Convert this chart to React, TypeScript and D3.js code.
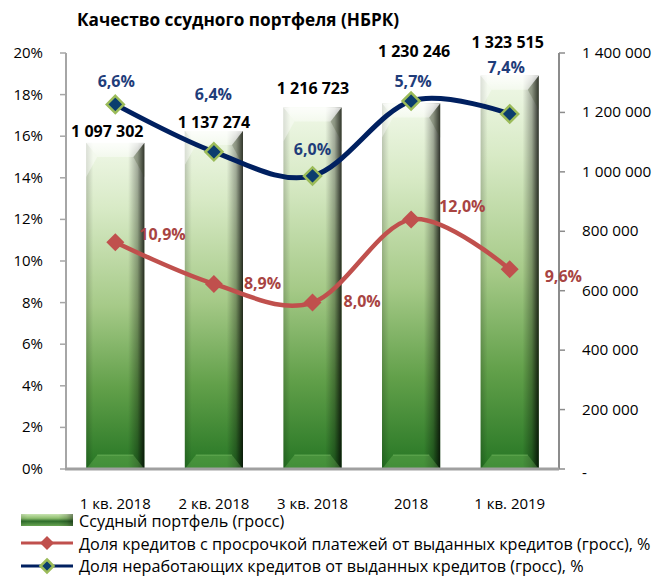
import React from 'react';
import * as d3 from 'd3';

// ---- data ----
const categories = ['1 кв. 2018', '2 кв. 2018', '3 кв. 2018', '2018', '1 кв. 2019'];
const portfolio = [1097302, 1137274, 1216723, 1230246, 1323515];
const overdueShare = [10.9, 8.9, 8.0, 12.0, 9.6];
// NPL line as drawn against the left axis (its labels differ from the drawn heights)
const nplPlotted = [17.53, 15.25, 14.09, 17.69, 17.07];
const nplLabels = ['6,6%', '6,4%', '6,0%', '5,7%', '7,4%'];
const leftTicks = [0, 2, 4, 6, 8, 10, 12, 14, 16, 18, 20];
const rightTicks = [0, 200000, 400000, 600000, 800000, 1000000, 1200000, 1400000];
const title = 'Качество ссудного портфеля (НБРК)';
const legendNames = [
  'Ссудный портфель (гросс)',
  'Доля кредитов с просрочкой платежей от выданных кредитов (гросс), %',
  'Доля неработающих кредитов от выданных кредитов (гросс), %',
];

// ---- layout (label offsets) ----
const barLabelOffset: [number, number][] = [[-8, -6], [0, -3], [0.5, -13.5], [3, -46], [-2, -28]];
const redLabelOffset: [number, number][] = [[24, -2], [30, 5], [31, 4], [28, -7], [35, 13]];
const navyLabelOffset: [number, number][] = [[1, -17], [-0.5, -52], [0, -21], [2, -14], [-3.5, -41]];

const FONT = "'Open Sans', 'Noto Sans', sans-serif";
const W = 658, H = 576;
const L = 66, R = 559, T = 53, B = 469;

const fmtSpace = (v: number) => d3.format(',')(v).replace(/,/g, '\u00a0');
const fmtPct = (v: number) => d3.format('.1f')(v).replace('.', ',') + '%';

function Bar({ x, y, w, h }: { x: number; y: number; w: number; h: number }) {
  const b = 11, bt = 14;
  return (
    <g>
      <rect x={x} y={y} width={w} height={h} fill="url(#barV)" />
      <rect x={x} y={y} width={w} height={h} fill="url(#barH)" />
      <polygon points={`${x},${y} ${x + w},${y} ${x + w - b},${y + bt} ${x + b},${y + bt}`} fill="url(#bevelTop)" />
      <polygon points={`${x},${y} ${x + b},${y + bt} ${x},${y + bt + 20}`} fill="rgba(255,255,255,0.4)" />
      <polygon points={`${x + w},${y} ${x + w - b},${y + bt} ${x + w},${y + bt + 20}`} fill="rgba(60,70,40,0.25)" />
      <polygon points={`${x + b},${y + h - bt} ${x + w - b},${y + h - bt} ${x + w},${y + h} ${x},${y + h}`} fill="rgba(140,210,110,0.28)" />
      <line x1={x + b} x2={x + w - b} y1={y + h - bt} y2={y + h - bt} stroke="rgba(170,230,140,0.35)" strokeWidth={1} />
    </g>
  );
}

export default function App() {
  const x = d3.scaleBand<string>().domain(categories).range([L, R]).paddingInner(0.41).paddingOuter(0.205);
  const yL = d3.scaleLinear().domain([0, 20]).range([B, T]);
  const yR = d3.scaleLinear().domain([0, 1400000]).range([B, T]);
  const cx = (i: number) => (x(categories[i]) as number) + x.bandwidth() / 2;

  const line = d3.line<number>().x((_, i) => cx(i)).y((v) => yL(v)).curve(d3.curveCardinal.tension(0));

  const diamond = (px: number, py: number, r: number) =>
    `M${px},${py - r}L${px + r},${py}L${px},${py + r}L${px - r},${py}Z`;

  return (
    <div style={{ position: 'absolute', left: 0, top: 0 }}>
      <svg width={W} height={H} style={{ display: 'block', background: '#fff' }} fontFamily={FONT}>
        <defs>
          <linearGradient id="barV" x1="0" y1="0" x2="0" y2="1">
            <stop offset="0" stopColor="#f0f8e8" />
            <stop offset="0.2" stopColor="#d8eac6" />
            <stop offset="0.5" stopColor="#a6ca88" />
            <stop offset="0.75" stopColor="#62a04a" />
            <stop offset="1" stopColor="#267624" />
          </linearGradient>
          <linearGradient id="barH" x1="0" y1="0" x2="1" y2="0">
            <stop offset="0" stopColor="#000" stopOpacity="0.18" />
            <stop offset="0.12" stopColor="#000" stopOpacity="0" />
            <stop offset="0.72" stopColor="#000" stopOpacity="0" />
            <stop offset="0.88" stopColor="#000" stopOpacity="0.3" />
            <stop offset="1" stopColor="#000" stopOpacity="0.8" />
          </linearGradient>
          <linearGradient id="bevelTop" x1="0" y1="0" x2="0" y2="1">
            <stop offset="0" stopColor="#ffffff" stopOpacity="0.8" />
            <stop offset="1" stopColor="#ffffff" stopOpacity="0.4" />
          </linearGradient>
          <linearGradient id="legSw" x1="0" y1="0" x2="0" y2="1">
            <stop offset="0" stopColor="#c9e4b2" />
            <stop offset="0.35" stopColor="#8fbf70" />
            <stop offset="0.6" stopColor="#2f6e2c" />
            <stop offset="1" stopColor="#6aa653" />
          </linearGradient>
        </defs>

        {/* title */}
        <text x={77} y={26} fontSize={17.2} fontWeight="bold" fill="#000">{title}</text>

        {/* bars */}
        {portfolio.map((v, i) => (
          <Bar key={i} x={x(categories[i]) as number} y={yR(v)} w={x.bandwidth()} h={B - yR(v)} />
        ))}

        {/* axes */}
        <line x1={L} x2={L} y1={T} y2={B} stroke="#a6a6a6" strokeWidth={2} />
        {leftTicks.map((t) => (
          <g key={t}>
            <line x1={L - 6} x2={L} y1={yL(t)} y2={yL(t)} stroke="#a6a6a6" strokeWidth={1.5} />
            <text x={43} y={yL(t) + 5} textAnchor="end" fontSize={15} fill="#000">{t}%</text>
          </g>
        ))}
        <line x1={R} x2={R} y1={T} y2={B} stroke="#8c8c8c" strokeWidth={2} />
        {rightTicks.map((t) => (
          <g key={t}>
            <line x1={R} x2={R + 6} y1={yR(t)} y2={yR(t)} stroke="#8c8c8c" strokeWidth={1.5} />
            <text x={582} y={yR(t) + 5 + (t === 0 ? 4 : 0)} textAnchor="start" fontSize={15.3} fill="#000">
              {t === 0 ? '-' : fmtSpace(t)}
            </text>
          </g>
        ))}
        <line x1={L - 1} x2={R} y1={B} y2={B} stroke="#a0a0a0" strokeWidth={3} />
        {categories.map((c, i) => (
          <text key={c} x={cx(i)} y={509} textAnchor="middle" fontSize={15} fill="#000">{c}</text>
        ))}

        {/* overdue line */}
        <path d={line(overdueShare) || ''} fill="none" stroke="#c0504d" strokeWidth={4.5} />
        {overdueShare.map((v, i) => (
          <path key={i} d={diamond(cx(i), yL(v), 9)} fill="#c0504d" />
        ))}

        {/* NPL line */}
        <path d={line(nplPlotted) || ''} fill="none" stroke="#002060" strokeWidth={5} />
        {nplPlotted.map((v, i) => (
          <path key={i} d={diamond(cx(i), yL(v), 8.5)} fill="#0b3d6e" stroke="#9bbb59" strokeWidth={2.5} />
        ))}

        {/* labels */}
        {portfolio.map((v, i) => (
          <text key={i} x={cx(i) + barLabelOffset[i][0]} y={yR(v) + barLabelOffset[i][1]} textAnchor="middle"
            fontSize={16} fontWeight="bold" fill="#000">{fmtSpace(v)}</text>
        ))}
        {overdueShare.map((v, i) => (
          <text key={i} x={cx(i) + redLabelOffset[i][0]} y={yL(v) + redLabelOffset[i][1]} textAnchor="start"
            fontSize={16} fontWeight="bold" fill="#a84442">{fmtPct(v)}</text>
        ))}
        {nplPlotted.map((v, i) => (
          <text key={i} x={cx(i) + navyLabelOffset[i][0]} y={yL(v) + navyLabelOffset[i][1]} textAnchor="middle"
            fontSize={16} fontWeight="bold" fill="#1f3d7a">{nplLabels[i]}</text>
        ))}

        {/* legend */}
        <rect x={21} y={514} width={52} height={12} fill="url(#legSw)" />
        <rect x={21} y={514} width={52} height={12} fill="url(#barH)" opacity={0.5} />
        <text x={79} y={527} fontSize={16.2} fill="#000">{legendNames[0]}</text>
        <line x1={21} x2={73} y1={543} y2={543} stroke="#c0504d" strokeWidth={3} />
        <path d={diamond(47, 543, 7)} fill="#c0504d" />
        <text x={79} y={550} fontSize={16.2} fill="#000">{legendNames[1]}</text>
        <line x1={21} x2={73} y1={566} y2={566} stroke="#002060" strokeWidth={3} />
        <path d={diamond(47, 566, 6.5)} fill="#0b3d6e" stroke="#9bbb59" strokeWidth={2.5} />
        <text x={79} y={572} fontSize={16.2} fill="#000">{legendNames[2]}</text>
      </svg>
    </div>
  );
}
